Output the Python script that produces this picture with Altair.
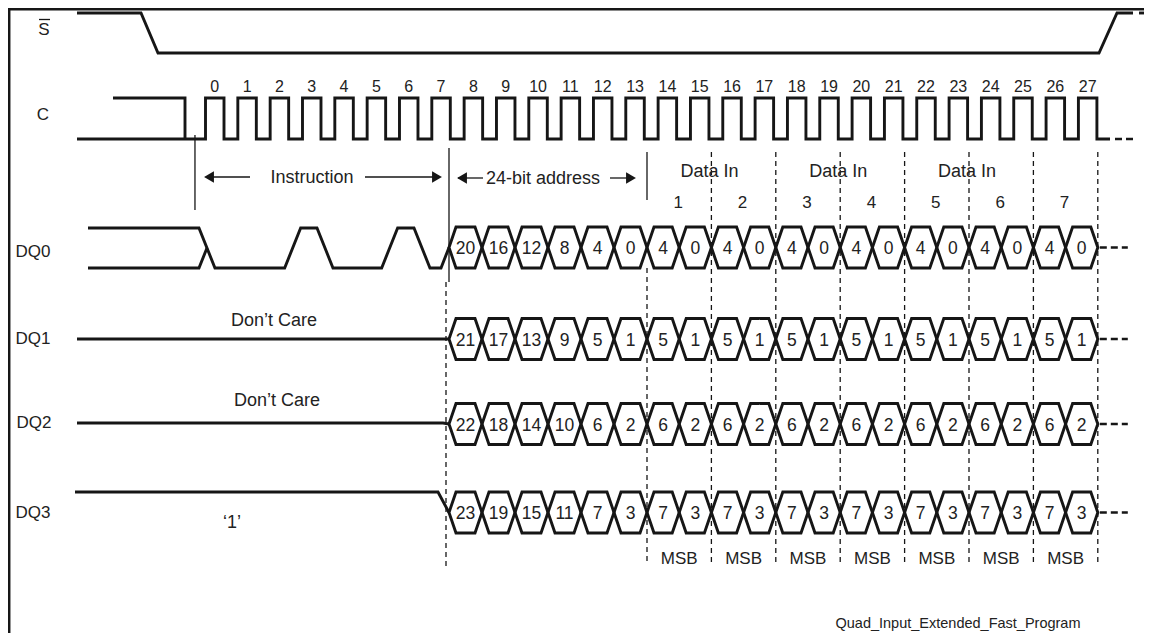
import altair as alt
import pandas as pd

# ---------------- data ----------------
clock_cycles = list(range(28))                      # C pulse numbers
instruction_bits = [0, 0, 0, 1, 0, 0, 1, 0]         # DQ0 during the instruction
address_bits = {
    "DQ0": [20, 16, 12, 8, 4, 0],
    "DQ1": [21, 17, 13, 9, 5, 1],
    "DQ2": [22, 18, 14, 10, 6, 2],
    "DQ3": [23, 19, 15, 11, 7, 3],
}
data_nibble_bits = {
    "DQ0": [4, 0],
    "DQ1": [5, 1],
    "DQ2": [6, 2],
    "DQ3": [7, 3],
}
data_in_bytes = [1, 2, 3, 4, 5, 6, 7]
data_in_title_pairs = [1, 3, 5]                     # "Data In" centred between byte k and k+1
msb_label = "MSB"
row_labels = ["S", "C", "DQ0", "DQ1", "DQ2", "DQ3"]
dont_care_rows = ["DQ1", "DQ2"]
dont_care_text = "Don\u2019t Care"
dq3_level_text = "\u20181\u2019"
section_labels = ["Instruction", "24-bit address"]
footer_text = "Quad_Input_Extended_Fast_Program"

# ---------------- layout (page pixels) ----------------
W, H = 1136, 625
OX, OY = 8, 8
INK = "#161616"
TXT = "#222222"
FONT = "Liberation Sans"

CLK_F0, CLK_P, CLK_HIGH = 224.0, 32.33, 18.5
CLK_HI, CLK_LO = 98, 139
S_HI, S_LO = 13, 53
ROW_Y = {"DQ0": 247.5, "DQ1": 339, "DQ2": 424, "DQ3": 512.5}
ROW_LABEL_Y = {"S": 30, "C": 115, "DQ0": 252, "DQ1": 338.5, "DQ2": 423, "DQ3": 512.5}
ROW_LABEL_X = {"S": 44, "C": 43, "DQ0": 33, "DQ1": 33, "DQ2": 34, "DQ3": 33}
HEX_H, HEX_S = 20.5, 7
ADDR_X0, ADDR_W = 449, 33
DATA_X0 = ADDR_X0 + 6 * ADDR_W
DATA_W = 32.2


def fall(k):
    return CLK_F0 + CLK_P * k


thick, thin, dashed, tails = [], [], [], []


def add(lst, name, pts):
    for i, (x, y) in enumerate(pts):
        lst.append(dict(path=name, ord=i, x=x, y=y))


# S-bar
add(thick, "S", [(77, S_HI), (141, S_HI), (158, S_LO), (1099, S_LO), (1117, S_HI), (1133, S_HI)])
add(thick, "S_tail", [(1139, S_HI), (1144, S_HI)])

# Clock
pts = [(77, CLK_LO)]
for k in clock_cycles:
    r, f = fall(k) - CLK_HIGH, fall(k)
    pts += [(r, CLK_LO), (r, CLK_HI), (f, CLK_HI), (f, CLK_LO)]
pts.append((1110, CLK_LO))
add(thick, "C", pts)
add(thick, "C_mode3", [(113, CLK_HI), (185, CLK_HI), (185, CLK_LO)])
add(tails, "C_tail", [(1115, CLK_LO), (1133, CLK_LO)])

# DQ0 during instruction
instr_start = fall(-1) + 3.3
yH, yL = 228, 268
lvl = lambda b: yH if b else yL
up = [(88, yH), (instr_start + 4, yH), (instr_start + 20, lvl(instruction_bits[0]))]
for k in range(1, len(instruction_bits)):
    if instruction_bits[k] != instruction_bits[k - 1]:
        b = fall(k - 1)
        up += [(b - 4, lvl(instruction_bits[k - 1])), (b + 12, lvl(instruction_bits[k]))]
up += [(ADDR_X0 - 8, lvl(instruction_bits[-1])), (ADDR_X0, ROW_Y["DQ0"])]
add(thick, "DQ0_up", up)
add(thick, "DQ0_lo", [(88, yL), (instr_start + 4, yL), (instr_start + 12, (yH + yL) / 2)])

# DQ1..DQ3 before the address
add(thick, "DQ1_pre", [(77, ROW_Y["DQ1"]), (ADDR_X0, ROW_Y["DQ1"])])
add(thick, "DQ2_pre", [(77, ROW_Y["DQ2"] - 1), (ADDR_X0 - 6, ROW_Y["DQ2"] - 1), (ADDR_X0, ROW_Y["DQ2"])])
add(thick, "DQ3_pre", [(75, ROW_Y["DQ3"] - HEX_H), (ADDR_X0 - 11, ROW_Y["DQ3"] - HEX_H), (ADDR_X0, ROW_Y["DQ3"])])

# Bus hexagons
texts = []
for row, yc in ROW_Y.items():
    cells = [(ADDR_X0 + ADDR_W * i, ADDR_W, v) for i, v in enumerate(address_bits[row])]
    for j, _ in enumerate(data_in_bytes):
        for h, v in enumerate(data_nibble_bits[row]):
            cells.append((DATA_X0 + DATA_W * (2 * j + h), DATA_W, v))
    for n, (b, w, v) in enumerate(cells):
        top, bot = yc - HEX_H, yc + HEX_H
        mid = b + w / 2
        add(thick, f"{row}_hex{n}", [(mid, top), (b + w - HEX_S, top), (b + w, yc), (b + w - HEX_S, bot),
                                     (b + HEX_S, bot), (b, yc), (b + HEX_S, top), (mid, top)])
        texts.append(dict(x=mid, y=yc + 1.5, text=str(v), size=17.5))
    end = DATA_X0 + DATA_W * 2 * len(data_in_bytes)
    add(tails, f"{row}_tail", [(end + 2, yc), (end + 30, yc)])

# Thin solid markers, arrow shafts, overline
add(thin, "m_instr", [(instr_start, 135), (instr_start, 210)])
add(thin, "m_addr", [(ADDR_X0, 148), (ADDR_X0, 282)])
add(thin, "m_data", [(DATA_X0, 152), (DATA_X0, 200)])
add(thin, "a1", [(206, 177), (250, 177)])
add(thin, "a2", [(365, 177), (440, 177)])
add(thin, "a3", [(458, 178), (483, 178)])
add(thin, "a4", [(610, 178), (634, 178)])
add(thin, "overline", [(39, 19.5), (50, 19.5)])

# Thin dashed guides
add(dashed, "d_addr", [(ADDR_X0 - 3, 282), (ADDR_X0 - 3, 568)])
add(dashed, "d_data0", [(DATA_X0, 268), (DATA_X0, 562)])
for k in range(1, len(data_in_bytes) + 1):
    x = DATA_X0 + 2 * DATA_W * k
    add(dashed, f"d_data{k}", [(x, 152), (x, 562)])

# Border (top and left)
add(thick, "border_top", [(OX, 9), (OX + W, 9)])
add(thick, "border_left", [(9, OY), (9, OY + H)])

heads_left = pd.DataFrame(dict(x=[209, 462], y=[177, 178]))
heads_right = pd.DataFrame(dict(x=[437, 631], y=[177, 178]))

# Texts
for r in row_labels:
    texts.append(dict(x=ROW_LABEL_X[r], y=ROW_LABEL_Y[r], text=r, size=17))
for k in clock_cycles:
    texts.append(dict(x=fall(k) - CLK_HIGH / 2, y=87, text=str(k), size=16))
texts.append(dict(x=312, y=177.5, text=section_labels[0], size=18))
texts.append(dict(x=543, y=179, text=section_labels[1], size=18))
for k in data_in_title_pairs:
    texts.append(dict(x=DATA_X0 + 2 * DATA_W * k - 2, y=171.5, text="Data In", size=18))
for j, n in enumerate(data_in_bytes):
    cx = DATA_X0 + 2 * DATA_W * j + DATA_W
    texts.append(dict(x=cx - 1, y=202.5, text=str(n), size=17))
    texts.append(dict(x=cx, y=559, text=msb_label, size=17))
texts.append(dict(x=274, y=321, text=dont_care_text, size=18))
texts.append(dict(x=277, y=401, text=dont_care_text, size=18))
texts.append(dict(x=232, y=523, text=dq3_level_text, size=18))
texts.append(dict(x=958, y=624, text=footer_text, size=14.5))

X = alt.X("x:Q", scale=alt.Scale(domain=[OX, OX + W], nice=False, zero=False), axis=None)
Y = alt.Y("y:Q", scale=alt.Scale(domain=[OY, OY + H], nice=False, zero=False, reverse=True), axis=None)


def lines(rows, width, dash=None):
    kw = dict(color=INK, strokeWidth=width, strokeJoin="miter", strokeCap="butt")
    if dash:
        kw["strokeDash"] = dash
    return alt.Chart(pd.DataFrame(rows)).mark_line(**kw).encode(
        x=X, y=Y, detail="path:N", order="ord:Q")


layers = [
    lines(dashed, 1.3, [5, 4]),
    lines(thin, 1.3),
    lines(thick, 2.9),
    lines(tails, 2.6, [7, 4]),
    alt.Chart(heads_left).mark_point(shape="triangle-left", filled=True, size=130, color=INK, opacity=1).encode(x=X, y=Y),
    alt.Chart(heads_right).mark_point(shape="triangle-right", filled=True, size=130, color=INK, opacity=1).encode(x=X, y=Y),
    alt.Chart(pd.DataFrame(texts)).mark_text(font=FONT, color=TXT, baseline="middle", align="center").encode(
        x=X, y=Y, text="text:N", size=alt.Size("size:Q", scale=None)),
]

chart = alt.layer(*layers).properties(
    width=W, height=H, padding=0, autosize=alt.AutoSizeParams(type="none"), background="white"
).configure_view(stroke=None)

chart.save("out.html", embed_options={"renderer": "svg", "actions": False})
